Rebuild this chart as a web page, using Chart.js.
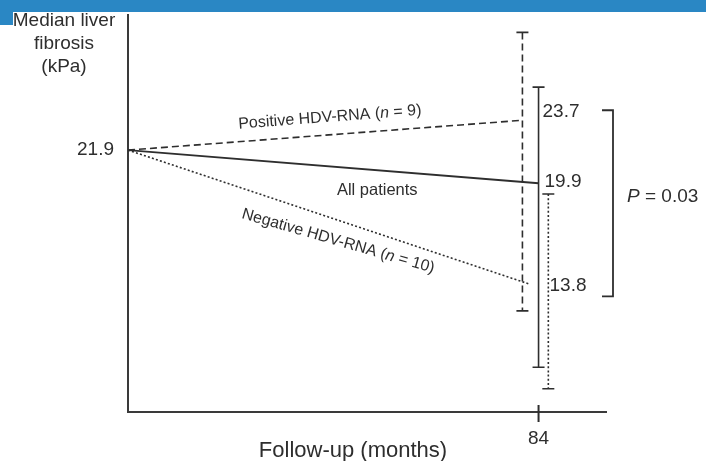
<!DOCTYPE html>
<html>
<head>
<meta charset="utf-8">
<script src="https://cdn.jsdelivr.net/npm/chart.js@4.4.1/dist/chart.umd.min.js"></script>
<style>
  html, body { margin: 0; padding: 0; background: #fff; }
</style>
</head>
<body>
<canvas id="fibrosis" width="706" height="461"></canvas>
<script>
// median liver stiffness (kPa) from baseline to 84 months of follow-up
const baselineMonth = 0;
const baselineValue = 21.9;
const groupNames = ["Positive HDV-RNA", "All patients", "Negative HDV-RNA"];
const groupN = [9, null, 10];
const endMonths = [80.7, 84, 82.3];   // the three lines stop a little apart
const endValues = [23.7, 19.9, 13.8];
const barMonths = [80.7, 84, 86];     // error bars are offset so they don't overlap
const barHigh = [29.0, 25.7, 19.25];
const barLow = [12.2, 8.8, 7.5];
const xTicks = [84];
const yTicks = [21.9];
const pValue = "0.03";

const ink = "#2e2e2e";
const family = "'Liberation Sans', Arial, Helvetica, sans-serif";
const dashes = [[7, 4], [], [2, 2.2]];

function richText(ctx, parts, x, y, size, angle, align) {
  ctx.save();
  ctx.translate(x, y);
  ctx.rotate(angle * Math.PI / 180);
  const fonts = parts.map(p => (p[1] ? "italic " : "") + size + "px " + family);
  let w = 0;
  const ws = parts.map((p, i) => {
    ctx.font = fonts[i];
    const m = ctx.measureText(p[0]).width;
    w += m;
    return m;
  });
  let cx = align === "left" ? 0 : -w / 2;
  ctx.textBaseline = "middle";
  ctx.textAlign = "left";
  ctx.fillStyle = ink;
  parts.forEach((p, i) => {
    ctx.font = fonts[i];
    ctx.fillText(p[0], cx, 0);
    cx += ws[i];
  });
  ctx.restore();
}

function groupLabel(i) {
  if (groupN[i] == null) return [[groupNames[i], false]];
  return [[groupNames[i] + " (", false], ["n", true], [" = " + groupN[i] + ")", false]];
}

const decorations = {
  id: "decorations",
  beforeDraw(chart) {
    const ctx = chart.ctx;
    ctx.save();
    ctx.fillStyle = "#fff";
    ctx.fillRect(0, 0, chart.width, chart.height);
    // page header strip
    ctx.fillStyle = "#2a87c4";
    ctx.fillRect(0, 0, chart.width, 12);
    ctx.fillRect(0, 0, 13, 25);
    ctx.restore();
  },
  afterDatasetsDraw(chart) {
    const ctx = chart.ctx;
    const sx = chart.scales.x, sy = chart.scales.y;
    ctx.save();
    ctx.strokeStyle = ink;
    ctx.lineWidth = 1.6;
    barMonths.forEach((m, i) => {
      const x = sx.getPixelForValue(m);
      const top = sy.getPixelForValue(barHigh[i]);
      const bot = sy.getPixelForValue(barLow[i]);
      ctx.setLineDash(dashes[i]);
      ctx.beginPath();
      ctx.moveTo(x, top);
      ctx.lineTo(x, bot);
      ctx.stroke();
      ctx.setLineDash([]);
      ctx.beginPath();
      ctx.moveTo(x - 6, top); ctx.lineTo(x + 6, top);
      ctx.moveTo(x - 6, bot); ctx.lineTo(x + 6, bot);
      ctx.stroke();
    });
    // tick mark crossing the x axis
    ctx.lineWidth = 2;
    xTicks.forEach(t => {
      const x = sx.getPixelForValue(t);
      ctx.beginPath();
      ctx.moveTo(x, sy.bottom - 7);
      ctx.lineTo(x, sy.bottom + 10);
      ctx.stroke();
    });
    ctx.restore();
  },
  afterDraw(chart) {
    const ctx = chart.ctx;
    const sx = chart.scales.x, sy = chart.scales.y;
    const x0 = sx.getPixelForValue(baselineMonth), y0 = sy.getPixelForValue(baselineValue);

    // y axis title, stacked in the corner
    ["Median liver", "fibrosis", "(kPa)"].forEach((t, k) => {
      richText(ctx, [[t, false]], 64, 21 + k * 23, 19, 0, "center");
    });
    // x axis title
    richText(ctx, [["Follow-up (months)", false]], 353, 451, 22, 0, "center");

    // labels along each line
    const offsets = [-17.5, 20, 21];
    const along = [41.3, 51, 43];
    const angles = [null, 0, 16];
    endMonths.forEach((m, i) => {
      const x1 = sx.getPixelForValue(m), y1 = sy.getPixelForValue(endValues[i]);
      const xm = sx.getPixelForValue(along[i]);
      const ym = y0 + (y1 - y0) * (xm - x0) / (x1 - x0);
      const ang = angles[i] == null ? Math.atan2(y1 - y0, x1 - x0) * 180 / Math.PI : angles[i];
      richText(ctx, groupLabel(i), xm, ym + offsets[i], i === 1 ? 16.5 : 16, ang, "center");
    });

    // end values
    const valDx = [4, 6, 11];
    const valDy = [-8, -1, 1.5];
    endValues.forEach((v, i) => {
      richText(ctx, [[v.toFixed(1), false]], sx.getPixelForValue(84) + valDx[i], sy.getPixelForValue(v) + valDy[i], 19, 0, "left");
    });

    // significance bracket between the two subgroups
    const bx = sx.right + 7;
    const bt = sy.getPixelForValue(endValues[0]) - 10;
    const bb = sy.getPixelForValue(endValues[2]) + 12;
    ctx.save();
    ctx.strokeStyle = ink;
    ctx.lineWidth = 1.8;
    ctx.beginPath();
    ctx.moveTo(bx - 11, bt); ctx.lineTo(bx, bt); ctx.lineTo(bx, bb); ctx.lineTo(bx - 11, bb);
    ctx.stroke();
    ctx.restore();
    richText(ctx, [["P", true], [" = " + pValue, false]], bx + 14, (bt + bb) / 2 - 7, 19, 0, "left");
  }
};

new Chart(document.getElementById("fibrosis"), {
  type: "line",
  data: {
    datasets: groupNames.map((name, i) => ({
      label: name,
      data: [
        { x: baselineMonth, y: baselineValue },
        { x: endMonths[i], y: endValues[i] }
      ],
      borderColor: ink,
      borderWidth: i === 1 ? 1.8 : 1.6,
      borderDash: dashes[i],
      pointRadius: 0,
      tension: 0,
      fill: false
    }))
  },
  options: {
    responsive: false,
    animation: false,
    layout: { padding: { top: 15, right: 100, left: 0, bottom: 0 } },
    plugins: { legend: { display: false }, tooltip: { enabled: false } },
    scales: {
      x: {
        type: "linear",
        min: 0,
        max: 97.8,
        afterFit: s => { s.height = 49; s.paddingLeft = 0; s.paddingRight = 0; },
        afterBuildTicks: s => { s.ticks = xTicks.map(v => ({ value: v })); },
        grid: { display: false, drawTicks: false },
        border: { display: true, color: "#3a3a3a", width: 2 },
        ticks: { color: ink, font: { family, size: 19 }, padding: 15, maxRotation: 0, callback: v => String(v) }
      },
      y: {
        type: "linear",
        min: 6.1,
        max: 30.05,
        afterFit: s => { s.width = 128; s.paddingTop = 0; s.paddingBottom = 0; },
        afterBuildTicks: s => { s.ticks = yTicks.map(v => ({ value: v })); },
        grid: { display: false, drawTicks: false },
        border: { display: true, color: "#3a3a3a", width: 2 },
        ticks: { color: ink, font: { family, size: 19 }, padding: 14, callback: v => String(v) }
      }
    }
  },
  plugins: [decorations]
});
</script>
</body>
</html>
